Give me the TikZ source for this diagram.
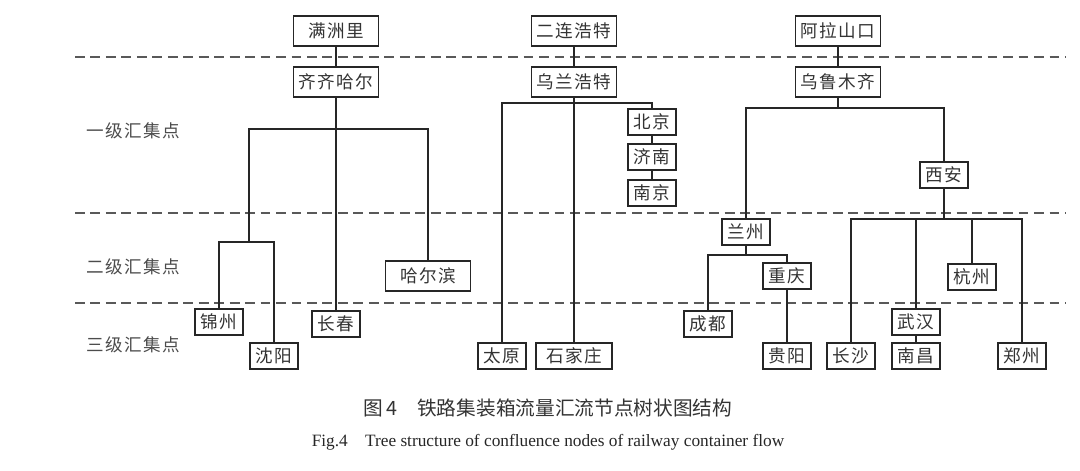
\documentclass[tikz,border=0pt]{standalone}
\usepackage{fontspec}
\setmainfont{Liberation Serif}
\newfontfamily\cjk{Noto Sans CJK SC}
\newfontfamily\cjkbox[LetterSpace=8]{Noto Sans CJK SC}
\usepackage{xcolor}
\usepackage{tikz}

\begin{document}
\begin{tikzpicture}[x=0.025cm,y=-0.025cm,
  city/.style={draw=black!85,line width=1.1pt,fill=white,inner sep=2pt,
               minimum width=1.2cm,minimum height=0.65cm,
               font=\cjkbox\fontsize{12.5}{14}\selectfont,text=black!80},
  port/.style={city,minimum width=2.12cm,minimum height=0.75cm},
  edge/.style={draw=black!85,line width=0.9pt},
  sep/.style={draw=black!65,line width=1.1pt,dash pattern=on 7pt off 4pt},
  level/.style={font=\cjkbox\fontsize{12.5}{15}\selectfont,text=black!70}]
  \useasboundingbox (0,0) rectangle (1080,470);

  % level separators and labels
  \foreach \y in {57,213,303} \draw[sep] (75,\y) -- (1065,\y);
  \node[level] (L1) at (133,131) {一级汇集点};
  \node[level] (L2) at (133,267) {二级汇集点};
  \node[level] (L3) at (133,345) {三级汇集点};

  % Manzhouli branch
  \node[port] (MZL)  at (336,31)  {满洲里};
  \node[port] (QQHE) at (336,82)  {齐齐哈尔};
  \node[port] (HEB)  at (428,276) {哈尔滨};
  \node[city] (JZ)   at (219,322) {锦州};
  \node[city] (SY)   at (274,356) {沈阳};
  \node[city] (CC)   at (336,324) {长春};
  \coordinate (QF) at (336,129);
  \coordinate (JF) at (249,242);
  \draw[edge] (MZL) -- (QQHE);
  \draw[edge] (QQHE) -- (CC);
  \draw[edge] (JF) |- (QF) -| (HEB);
  \draw[edge] (JZ) |- (JF) -| (SY);

  % Erenhot branch
  \node[port] (ELHT) at (574,31)  {二连浩特};
  \node[port] (WLHT) at (574,82)  {乌兰浩特};
  \node[city] (BJ)   at (652,122) {北京};
  \node[city] (JN)   at (652,157) {济南};
  \node[city] (NJ)   at (652,193) {南京};
  \node[city] (TY)   at (502,356) {太原};
  \node[city,minimum width=1.9cm] (SJZ) at (574,356) {石家庄};
  \coordinate (WF) at (574,103);
  \draw[edge] (ELHT) -- (WLHT);
  \draw[edge] (WLHT) -- (SJZ);
  \draw[edge] (TY) |- (WF) -| (BJ);
  \draw[edge] (BJ) -- (JN) -- (NJ);

  % Alashankou branch
  \node[port] (ALSK) at (838,31)  {阿拉山口};
  \node[port] (WLMQ) at (838,82)  {乌鲁木齐};
  \node[city] (XA)   at (944,175) {西安};
  \node[city] (LZ)   at (746,232) {兰州};
  \node[city] (CQ)   at (787,276) {重庆};
  \node[city] (CD)   at (708,324) {成都};
  \node[city] (GY)   at (787,356) {贵阳};
  \node[city] (HZ)   at (972,277) {杭州};
  \node[city] (WH)   at (916,322) {武汉};
  \node[city] (NC)   at (916,356) {南昌};
  \node[city] (CS)   at (851,356) {长沙};
  \node[city] (ZZ)   at (1022,356) {郑州};
  \coordinate (UF) at (838,108);
  \coordinate (LF) at (746,255);
  \coordinate (XF) at (944,219);
  \draw[edge] (ALSK) -- (WLMQ);
  \draw[edge] (WLMQ) -- (UF);
  \draw[edge] (LZ) |- (UF) -| (XA);
  \draw[edge] (LZ) -- (LF);
  \draw[edge] (CD) |- (LF) -| (CQ);
  \draw[edge] (CQ) -- (GY);
  \draw[edge] (XA) -- (XF);
  \draw[edge] (CS) |- (XF) -| (ZZ);
  \draw[edge] (WH) -- (WH |- XF);
  \draw[edge] (HZ) -- (HZ |- XF);
  \draw[edge] (WH) -- (NC);

  % caption
  \node[font=\cjk\fontsize{14}{17}\selectfont,text=black!80] (CAP) at (548,408)
    {图\,4\quad 铁路集装箱流量汇流节点树状图结构};
  \node[font=\fontsize{12.3}{14}\selectfont,text=black!85] (CAPEN) at (548,442)
    {Fig.4\quad Tree structure of confluence nodes of railway container flow};
\end{tikzpicture}
\end{document}
